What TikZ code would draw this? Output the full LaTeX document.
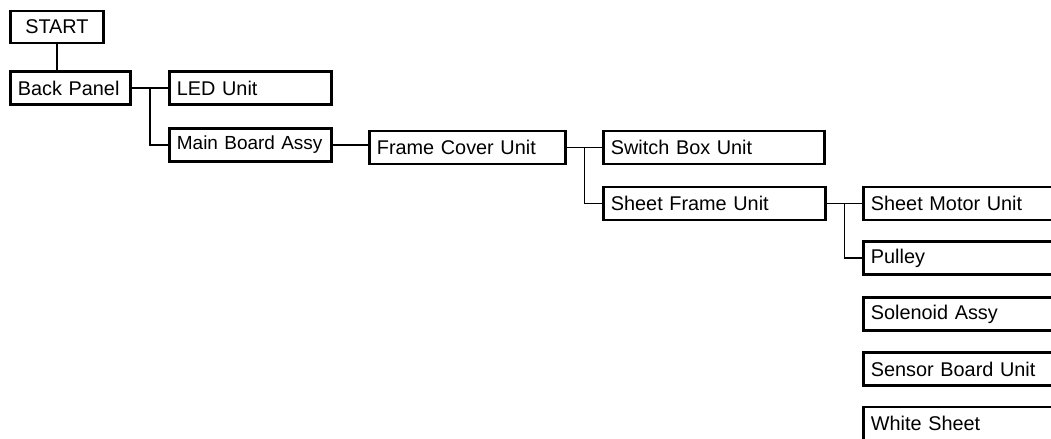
\documentclass[tikz,border=0pt]{standalone}
\usepackage{fontspec}
\setsansfont{Liberation Sans}
\usetikzlibrary{calc}

\begin{document}
\begin{tikzpicture}[x=1cm,y=1cm,
  part/.style={draw, line width=1.6pt, anchor=west, minimum height=0.66cm,
    inner xsep=0.15cm, inner ysep=0pt, align=left,
    font=\sffamily\fontsize{11.3}{13}\selectfont},
  link/.style={line width=0.75pt}]

% page frame
\useasboundingbox (0,0) rectangle (21.02,-8.78);
\clip (0,0) rectangle (21.02,-8.78);

% first column
\node[part, align=center, minimum width=1.86cm, minimum height=0.64cm] (start) at (0.18,-0.54) {START};
\node[part, text width=2.10cm] (backpanel) at (0.18,-1.76) {Back Panel};

% second column
\node[part, text width=2.94cm] (ledunit) at (3.36,-1.76) {LED Unit};
\node[part, text width=2.94cm, font=\sffamily\fontsize{10.8}{13}\selectfont] (mainboard) at (3.36,-2.90) {\mbox{Main Board Assy}};

% third column
\node[part, text width=3.62cm] (framecover) at (7.36,-2.95) {Frame Cover Unit};

% fourth column
\node[part, text width=4.12cm] (switchbox) at (12.04,-2.95) {Switch Box Unit};
\node[part, text width=4.14cm] (sheetframe) at (12.04,-4.07) {Sheet Frame Unit};

% last column (runs past the page edge)
\node[part, text width=4.12cm] (sheetmotor) at (17.24,-4.07) {Sheet Motor Unit};
\node[part, text width=4.12cm] (pulley) at (17.24,-5.16) {Pulley};
\node[part, text width=4.12cm] (solenoid) at (17.24,-6.28) {Solenoid Assy};
\node[part, text width=4.12cm] (sensorboard) at (17.24,-7.38) {Sensor Board Unit};
\node[part, text width=4.12cm] (whitesheet) at (17.24,-8.47) {White Sheet};

% split points
\coordinate (bpsplit) at ($(backpanel.east)!0.5!(ledunit.west)$);
\coordinate (fcsplit) at ($(framecover.east)!0.5!(switchbox.west)$);
\coordinate (sfsplit) at ($(sheetframe.east)!0.5!(sheetmotor.west)$);

% connectors
\draw[link] (start.south) -- (start.south |- backpanel.north);
\draw[link] (backpanel.east) -- (ledunit.west);
\draw[link] (bpsplit) |- (mainboard.west);
\draw[link] (mainboard.east) -- (mainboard.east -| framecover.west);
\draw[link] (framecover.east) -- (switchbox.west);
\draw[link] (fcsplit) |- (sheetframe.west);
\draw[link] (sheetframe.east) -- (sheetmotor.west);
\draw[link] (sfsplit) |- (pulley.west);

\end{tikzpicture}
\end{document}
